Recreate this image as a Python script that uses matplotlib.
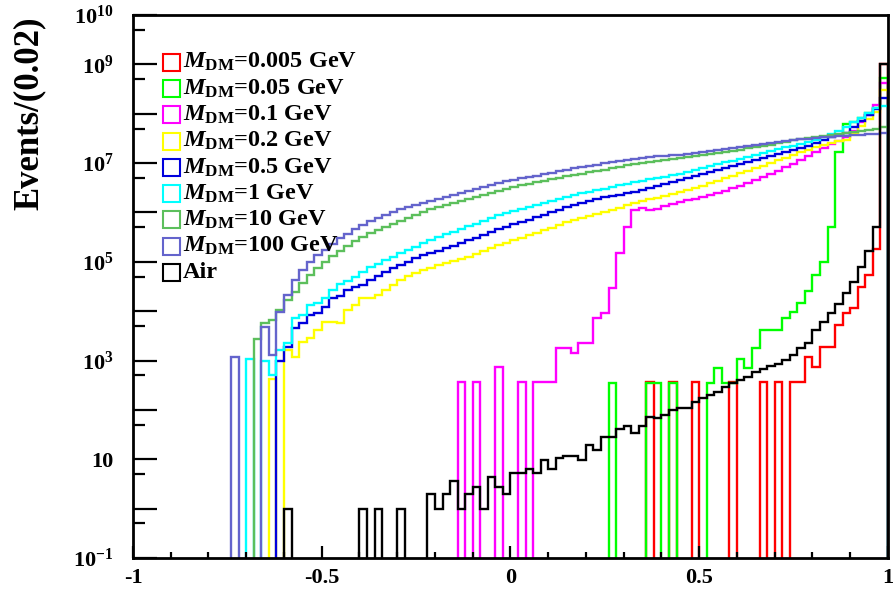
import numpy as np
import matplotlib
matplotlib.use('Agg')
import matplotlib.pyplot as plt
from matplotlib.patches import Rectangle
from matplotlib.ticker import FixedLocator, FixedFormatter, NullFormatter

plt.rcParams['font.family'] = 'Liberation Serif'
plt.rcParams['font.weight'] = 'bold'
plt.rcParams['mathtext.fontset'] = 'custom'
plt.rcParams['mathtext.rm'] = 'Liberation Serif:bold'
plt.rcParams['mathtext.it'] = 'Liberation Serif:italic:bold'
plt.rcParams['mathtext.bf'] = 'Liberation Serif:bold'

################################ Data (log10 of events per bin) ################################
# 100 bins of width 0.02 between -1 and 1; None = empty bin
edges = np.linspace(-1, 1, 101)

red_first = 68
red_log = [2.57, None, None, 2.57, None, None, 2.57, None, None, None, None, 2.57, None, None,
           None, 2.57, None, 2.57, None, 2.57, 2.57, 3.07, 2.87, 3.28, 3.28, 3.72, 3.96, 4.06,
           4.49, 4.73, 5.26, 9.0]

green05_first = 63
green05_log = [2.55, None, None, None, None, 2.55, 2.55, None, 2.55, None, None, None, None,
               2.55, 2.85, 2.55, 2.55, 3.03, 2.85, 3.25, 3.62, 3.62, 3.62, 3.86, 3.98, 4.17,
               4.40, 4.73, 5.0, 5.70, 7.22, 7.79, 7.83, 7.91, 8.01, 8.11, 8.72]

magenta_first = 43
magenta_log = [2.57, None, 2.57, None, None, 2.87, None, None, 2.57, None, 2.57, 2.57, 2.57,
               3.25, 3.25, 3.15, 3.35, 3.35, 3.86, 3.96, 4.47, 5.18, 5.70, 6.05, 6.09, 6.05,
               6.07, 6.13, 6.17, 6.21, 6.25, 6.27, 6.31, 6.35, 6.39, 6.43, 6.49, 6.53, 6.59,
               6.65, 6.71, 6.77, 6.84, 6.92, 6.98, 7.06, 7.14, 7.22, 7.30, 7.38, 7.45, 7.52,
               7.66, 7.83, 7.97, 8.17, 8.62]

yellow_first = 18
yellow_log = [2.63, None, 3.21, 3.07, 3.37, 3.46, 3.62, 3.78, 3.78, 3.76, 4.02, 4.12, 4.26,
              4.26, 4.33, 4.43, 4.53, 4.63, 4.71, 4.77, 4.83, 4.87, 4.93, 4.97, 5.01, 5.05,
              5.10, 5.16, 5.22, 5.28, 5.34, 5.38, 5.44, 5.48, 5.54, 5.58, 5.64, 5.68, 5.74,
              5.80, 5.84, 5.88, 5.92, 5.96, 6.01, 6.05, 6.09, 6.15, 6.19, 6.23, 6.27, 6.29,
              6.33, 6.37, 6.41, 6.45, 6.49, 6.53, 6.59, 6.63, 6.69, 6.73, 6.80, 6.84, 6.90,
              6.94, 7.0, 7.06, 7.10, 7.16, 7.22, 7.26, 7.32, 7.36, 7.40, 7.44, 7.46, 7.60,
              7.75, 7.89, 8.03, 8.49]

blue_first = 19
blue_log = [3.0, 3.27, 3.66, 3.76, 3.92, 3.96, 4.08, 4.26, 4.30, 4.43, 4.49, 4.53, 4.63, 4.71,
            4.79, 4.87, 4.93, 4.99, 5.07, 5.14, 5.18, 5.22, 5.28, 5.32, 5.38, 5.44, 5.48,
            5.54, 5.60, 5.66, 5.70, 5.76, 5.80, 5.84, 5.90, 5.94, 6.01, 6.05, 6.11, 6.15,
            6.19, 6.23, 6.27, 6.31, 6.33, 6.35, 6.39, 6.41, 6.45, 6.49, 6.53, 6.57, 6.61,
            6.65, 6.69, 6.73, 6.77, 6.82, 6.86, 6.90, 6.94, 6.98, 7.02, 7.06, 7.10, 7.14,
            7.18, 7.22, 7.26, 7.30, 7.34, 7.40, 7.46, 7.52, 7.56, 7.60, 7.73, 7.85, 7.97,
            8.09, 8.31]

cyan_first = 15
cyan_log = [3.04, None, 3.0, 2.71, 3.21, 3.35, 3.86, 3.92, 4.12, 4.16, 4.26, 4.43, 4.55, 4.61,
            4.69, 4.79, 4.89, 4.95, 5.03, 5.10, 5.18, 5.24, 5.30, 5.38, 5.44, 5.50, 5.56,
            5.60, 5.66, 5.72, 5.76, 5.82, 5.88, 5.94, 5.98, 6.03, 6.07, 6.11, 6.15, 6.19,
            6.23, 6.27, 6.31, 6.35, 6.39, 6.41, 6.45, 6.47, 6.51, 6.55, 6.57, 6.61, 6.63,
            6.67, 6.69, 6.71, 6.75, 6.77, 6.82, 6.86, 6.90, 6.94, 6.98, 7.02, 7.04, 7.08,
            7.12, 7.16, 7.20, 7.24, 7.28, 7.32, 7.34, 7.38, 7.42, 7.46, 7.52, 7.58, 7.66,
            7.73, 7.83, 7.91, 8.01, 8.11, 8.15]

green10_first = 16
green10_log = [3.44, 3.76, 3.82, 4.02, 4.22, 4.39, 4.57, 4.73, 4.87, 5.0, 5.12, 5.22, 5.32,
               5.42, 5.50, 5.58, 5.64, 5.70, 5.77, 5.83, 5.89, 5.95, 6.01, 6.07, 6.11, 6.15,
               6.19, 6.23, 6.27, 6.31, 6.35, 6.39, 6.43, 6.47, 6.51, 6.55, 6.57, 6.61, 6.63,
               6.67, 6.69, 6.73, 6.75, 6.77, 6.82, 6.84, 6.86, 6.90, 6.92, 6.96, 6.98, 7.0,
               7.02, 7.04, 7.06, 7.08, 7.10, 7.12, 7.14, 7.16, 7.18, 7.20, 7.22, 7.24, 7.27,
               7.30, 7.32, 7.34, 7.37, 7.40, 7.43, 7.47, 7.49, 7.51, 7.53, 7.55, 7.57, 7.59,
               7.61, 7.63, 7.65, 7.67, 7.69, 7.73]

purple_first = 13
purple_log = [3.07, None, None, None, 3.68, 3.11, 3.98, 4.33, 4.63, 4.83, 5.0, 5.14, 5.24,
              5.36, 5.48, 5.56, 5.66, 5.75, 5.83, 5.89, 5.95, 6.01, 6.07, 6.11, 6.15, 6.19,
              6.23, 6.27, 6.31, 6.35, 6.39, 6.43, 6.47, 6.51, 6.55, 6.59, 6.63, 6.65, 6.69,
              6.71, 6.73, 6.77, 6.79, 6.84, 6.86, 6.90, 6.92, 6.94, 6.96, 7.0, 7.02, 7.04,
              7.06, 7.08, 7.10, 7.12, 7.14, 7.15, 7.16, 7.17, 7.18, 7.20, 7.22, 7.24, 7.26,
              7.28, 7.30, 7.32, 7.34, 7.36, 7.38, 7.40, 7.42, 7.44, 7.47, 7.48, 7.49, 7.51,
              7.52, 7.53, 7.54, 7.55, 7.56, 7.57, 7.58, 7.59, 7.61]

air_first = 20
air_log = [0, None, None, None, None, None, None, None, None, None, 0, None, 0, None, None, 0,
           None, None, None, 0.30, 0, 0.30, 0.56, 0, 0.30, 0.44, 0, 0.64, 0.44, 0.30, 0.72,
           0.72, 0.80, 0.72, 0.98, 0.80, 1.02, 1.06, 1.06, 0.98, 1.29, 1.19, 1.45, 1.45,
           1.61, 1.67, 1.53, 1.67, 1.85, 1.83, 1.89, 2.0, 2.04, 2.04, 2.16, 2.24, 2.30, 2.36,
           2.46, 2.55, 2.60, 2.66, 2.77, 2.83, 2.88, 2.93, 3.01, 3.11, 3.25, 3.35, 3.62, 3.78,
           3.96, 4.14, 4.36, 4.59, 4.89, 5.21, 5.70, 9.0]

labels = [r'$M_{\rm DM}$=0.005 GeV', r'$M_{\rm DM}$=0.05 GeV', r'$M_{\rm DM}$=0.1 GeV',
          r'$M_{\rm DM}$=0.2 GeV', r'$M_{\rm DM}$=0.5 GeV', r'$M_{\rm DM}$=1 GeV',
          r'$M_{\rm DM}$=10 GeV', r'$M_{\rm DM}$=100 GeV', 'Air']
colors = ['#ff0000', '#00ff00', '#ff00ff', '#ffff00', '#0000dd', '#00ffff', '#5cbf5c',
          '#6464cc', '#000000']

ytick_vals = [1e-1, 1, 10, 1e2, 1e3, 1e4, 1e5, 1e6, 1e7, 1e8, 1e9, 1e10]
ytick_labels = [r'$10^{-1}$', '', '10', '', r'$10^{3}$', '', r'$10^{5}$', '', r'$10^{7}$', '',
                r'$10^{9}$', r'$10^{10}$']
ytick_minor = [0.5, 5, 50, 5e2, 5e3, 5e4, 5e5, 5e6, 5e7, 5e8, 5e9]
xtick_vals = [-1, -0.5, 0, 0.5, 1]
xtick_labels = ['-1', '-0.5', '0', '0.5', '1']
################################################################################################


def to_hist(first, logs):
    # empty bins go below the axis so the outline drops to the bottom like ROOT
    h = np.full(len(edges) - 1, 1e-3)
    for i, v in enumerate(logs):
        if v is not None:
            h[first + i] = 10 ** v
    return h


series = [(red_first, red_log), (green05_first, green05_log), (magenta_first, magenta_log),
          (yellow_first, yellow_log), (blue_first, blue_log), (cyan_first, cyan_log),
          (green10_first, green10_log), (purple_first, purple_log), (air_first, air_log)]

fig = plt.figure(figsize=(8.96, 5.95), dpi=100)
ax = fig.add_axes([0.1484, 0.0622, 0.8426, 0.9126])

for (first, logs), col in zip(series, colors):
    ax.stairs(to_hist(first, logs), edges, baseline=1e-3, color=col, linewidth=1.7,
              joinstyle='miter')

ax.set_yscale('log')
ax.set_xlim(-1, 1)
ax.set_ylim(0.1, 1e10)

ax.yaxis.set_major_locator(FixedLocator(ytick_vals))
ax.yaxis.set_major_formatter(FixedFormatter(ytick_labels))
ax.yaxis.set_minor_locator(FixedLocator(ytick_minor))
ax.yaxis.set_minor_formatter(NullFormatter())
ax.xaxis.set_major_locator(FixedLocator(xtick_vals))
ax.xaxis.set_major_formatter(FixedFormatter(xtick_labels))
ax.xaxis.set_minor_locator(FixedLocator(np.arange(-0.9, 1.0, 0.1)))

ax.tick_params(axis='y', which='major', direction='in', length=17, width=1.6, labelsize=16, pad=14)
ax.tick_params(axis='y', which='minor', direction='in', length=8.5, width=1.6)
ax.tick_params(axis='x', which='major', direction='in', length=9, width=1.6, labelsize=16, pad=7)
ax.tick_params(axis='x', which='minor', direction='in', length=4, width=1.6)
for s in ax.spines.values():
    s.set_linewidth(2)

# ROOT style legend: open boxes, no frame
for i, (lab, col) in enumerate(zip(labels, colors)):
    yc = 0.913 - i * 0.0484
    ax.add_patch(Rectangle((0.040, yc - 0.0156), 0.0225, 0.0313, transform=ax.transAxes,
                           facecolor='none', edgecolor=col, linewidth=1.5, clip_on=False))
    ax.text(0.066, yc, lab, transform=ax.transAxes, fontsize=17.5, va='center', ha='left')

fig.text(0.033, 0.972, 'Events/(0.02)', rotation=90, va='top', ha='center', fontsize=25,
         fontweight='bold')

fig.savefig('out.png', dpi=100)
